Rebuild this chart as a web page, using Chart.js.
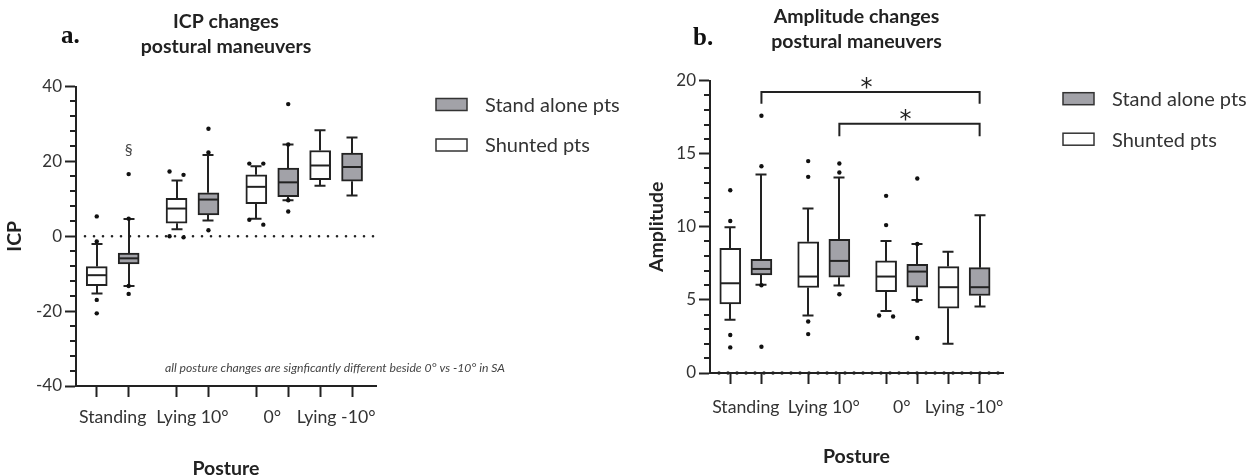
<!DOCTYPE html>
<html lang="en">
<head>
<meta charset="utf-8">
<title>ICP and amplitude changes with posture</title>
<script src="https://cdn.jsdelivr.net/npm/chart.js@4.4.1/dist/chart.umd.min.js"></script>
<style>
  html, body { margin: 0; padding: 0; background: #fff; }
  body { position: relative; width: 1256px; height: 476px; overflow: hidden; }
  canvas { position: absolute; top: 0; }
  #icpChart { left: 0; }
  #ampChart { left: 640px; }
</style>
</head>
<body>
<canvas id="icpChart" width="640" height="476"></canvas>
<canvas id="ampChart" width="616" height="476"></canvas>
<script>
const FONT = 'Lato, "Open Sans", sans-serif';
const INK = '#222222';
const TEXT = '#333333';
const SA_FILL = '#a2a2a8';
const SHUNT_FILL = '#ffffff';

const postures = ['Standing', 'Lying 10°', '0°', 'Lying -10°'];
// x position of each posture pair (GraphPad leaves uneven gaps between pairs)
const groupCenters = [1.5, 4, 6.5, 8.5];

// ---- a. ICP, whiskers at 10/90 percentile ----
const icpSaMin = [-13.3, 4.2, 9.6, 10.9];
const icpSaQ1  = [-7.4, 5.7, 10.6, 14.7];
const icpSaMed = [-5.9, 9.8, 14.4, 18.5];
const icpSaQ3  = [-4.5, 11.6, 18.2, 22.2];
const icpSaMax = [4.6, 21.7, 24.5, 26.4];
const icpSaOut = [[16.6, 4.7, -13.3, -15.4], [28.7, 22.4, 1.6], [35.3, 24.5, 9.6, 6.6], []];

const icpShMin = [-15.3, 1.9, 4.7, 13.5];
const icpShQ1  = [-13.2, 3.5, 8.7, 15.1];
const icpShMed = [-10.4, 7.4, 13.2, 18.9];
const icpShQ3  = [-8.1, 10.1, 16.4, 22.9];
const icpShMax = [-2.1, 14.9, 18.7, 28.3];
const icpShOut = [[5.3, -1.4, -17.0, -20.6], [16.4, 17.3, -0.3, 0.0], [19.4, 19.4, 3.1, 4.4], []];

// ---- b. Amplitude ----
const ampSaMin = [6.03, 5.98, 5.0, 4.55];
const ampSaQ1  = [6.71, 6.55, 5.87, 5.3];
const ampSaMed = [7.12, 7.67, 6.94, 5.87];
const ampSaQ3  = [7.78, 9.15, 7.44, 7.21];
const ampSaMax = [13.58, 13.38, 8.83, 10.8];
const ampSaOut = [[17.6, 14.15, 6.0, 1.8], [14.33, 13.72, 5.39], [13.31, 8.83, 4.95, 2.39], []];

const ampShMin = [3.64, 3.93, 4.25, 2.0];
const ampShQ1  = [4.73, 5.85, 5.57, 4.43];
const ampShMed = [6.14, 6.6, 6.6, 5.87];
const ampShQ3  = [8.53, 8.98, 7.67, 7.28];
const ampShMax = [9.97, 11.26, 9.03, 8.3];
const ampShOut = [[12.5, 10.4, 2.6, 1.75], [14.5, 13.42, 3.52, 2.66], [12.12, 10.12, 3.87, 3.93], []];

function boxSeries(label, fill, side, min, q1, med, q3, max, out) {
  return { label, fill, pos: groupCenters.map(c => c + side * 0.5), min, q1, med, q3, max, out };
}

const icpSeries = [
  boxSeries('Stand alone pts', SA_FILL, 1, icpSaMin, icpSaQ1, icpSaMed, icpSaQ3, icpSaMax, icpSaOut),
  boxSeries('Shunted pts', SHUNT_FILL, -1, icpShMin, icpShQ1, icpShMed, icpShQ3, icpShMax, icpShOut)
];
const ampSeries = [
  boxSeries('Stand alone pts', SA_FILL, 1, ampSaMin, ampSaQ1, ampSaMed, ampSaQ3, ampSaMax, ampSaOut),
  boxSeries('Shunted pts', SHUNT_FILL, -1, ampShMin, ampShQ1, ampShMed, ampShQ3, ampShMax, ampShOut)
];

function makeDatasets(series, barWidth) {
  const bars = series.map(s => ({
    type: 'bar',
    label: s.label,
    data: s.pos.map((p, i) => ({ x: p, y: [s.q1[i], s.q3[i]] })),
    backgroundColor: s.fill,
    borderColor: INK,
    borderWidth: 2,
    borderSkipped: false,
    barThickness: barWidth,
    grouped: false,
    order: 1
  }));
  const dots = series.map(s => ({
    type: 'scatter',
    label: s.label + ' (outliers)',
    data: s.out.flatMap((vals, i) => vals.map(v => ({ x: s.pos[i], y: v }))),
    pointRadius: 2.2,
    pointBackgroundColor: '#111',
    pointBorderWidth: 0,
    order: 0
  }));
  return bars.concat(dots);
}

// whiskers, medians, minor ticks, legend and the small annotations
function boxPlotLayer(cfg) {
  return {
    id: 'boxPlotLayer',
    afterDatasetsUpdate(chart) {
      // nudge near-identical outliers apart like GraphPad does
      chart.data.datasets.forEach((ds, di) => {
        if (ds.type !== 'scatter') return;
        const byBox = {};
        chart.getDatasetMeta(di).data.forEach(pt => {
          const k = Math.round(pt.x);
          (byBox[k] = byBox[k] || []).push(pt);
        });
        Object.values(byBox).forEach(list => {
          list.sort((a, b) => a.y - b.y);
          for (let k = 0; k < list.length - 1; k++) {
            if (list[k + 1].y - list[k].y < 6) {
              list[k].x -= 7;
              list[k + 1].x += 7;
              k++;
            }
          }
        });
      });
    },
    beforeDatasetsDraw(chart) {
      const { ctx, chartArea, scales: { x, y } } = chart;
      ctx.save();
      // dotted line at 0
      const y0 = y.getPixelForValue(0);
      ctx.strokeStyle = INK;
      ctx.lineWidth = cfg.zeroDot;
      ctx.lineCap = 'round';
      ctx.setLineDash([0, 9]);
      ctx.beginPath();
      ctx.moveTo(chartArea.left + 9, y0);
      ctx.lineTo(chartArea.right, y0);
      ctx.stroke();
      ctx.setLineDash([]);
      ctx.lineCap = 'butt';
      ctx.lineWidth = 2;
      cfg.series.forEach(s => s.pos.forEach((p, i) => {
        const px = Math.round(x.getPixelForValue(p));
        [[s.q3[i], s.max[i]], [s.q1[i], s.min[i]]].forEach(([from, to]) => {
          const a = y.getPixelForValue(from), b = y.getPixelForValue(to);
          ctx.beginPath();
          ctx.moveTo(px, a); ctx.lineTo(px, b);
          ctx.moveTo(px - 5.5, b); ctx.lineTo(px + 5.5, b);
          ctx.stroke();
        });
      }));
      ctx.restore();
    },
    afterDatasetsDraw(chart) {
      const { ctx, scales: { x, y } } = chart;
      ctx.save();
      ctx.strokeStyle = INK;
      ctx.lineWidth = 2;
      // medians
      const half = cfg.barWidth / 2 - 1;
      cfg.series.forEach(s => s.pos.forEach((p, i) => {
        const px = x.getPixelForValue(p), py = y.getPixelForValue(s.med[i]);
        ctx.beginPath();
        ctx.moveTo(px - half, py); ctx.lineTo(px + half, py);
        ctx.stroke();
      }));
      // minor ticks on the y axis
      const axisX = y.right;
      for (let v = y.min; v <= y.max + 1e-6; v += cfg.minorStep) {
        if (Math.abs(Math.round(v / cfg.majorStep) * cfg.majorStep - v) < 1e-6) continue;
        const py = Math.round(y.getPixelForValue(v));
        ctx.beginPath();
        ctx.moveTo(axisX - 6, py); ctx.lineTo(axisX, py);
        ctx.stroke();
      }
      // significance brackets
      ctx.fillStyle = INK;
      ctx.textAlign = 'center';
      (cfg.sig || []).forEach(b => {
        const s = cfg.series[b.series];
        const x1 = x.getPixelForValue(s.pos[b.from]), x2 = x.getPixelForValue(s.pos[b.to]);
        const top = y.getPixelForValue(b.top), tip = y.getPixelForValue(b.tip);
        ctx.beginPath();
        ctx.moveTo(x1, tip); ctx.lineTo(x1, top); ctx.lineTo(x2, top); ctx.lineTo(x2, tip);
        ctx.stroke();
        ctx.font = '24px "DejaVu Sans", sans-serif';
        ctx.textBaseline = 'alphabetic';
        ctx.fillText('*', (x1 + x2) / 2 - 4, top + 3);
      });
      // text markers tied to a box
      (cfg.marks || []).forEach(m => {
        const s = cfg.series[m.series];
        ctx.font = '16px ' + FONT;
        ctx.fillStyle = '#444';
        ctx.textBaseline = 'middle';
        ctx.fillText(m.text, x.getPixelForValue(s.pos[m.box]), y.getPixelForValue(m.y));
      });
      ctx.restore();
    },
    afterDraw(chart) {
      const { ctx, chartArea } = chart;
      ctx.save();
      // legend to the right of the plot
      cfg.series.forEach((s, i) => {
        const bx = chartArea.right + 60, by = chartArea.top + 18 + i * 40.5;
        ctx.fillStyle = s.fill;
        ctx.fillRect(bx, by - 6, 31, 12);
        ctx.strokeStyle = '#333';
        ctx.lineWidth = 1.5;
        ctx.strokeRect(bx, by - 6, 31, 12);
        ctx.fillStyle = TEXT;
        ctx.font = '20px ' + FONT;
        ctx.textAlign = 'left';
        ctx.textBaseline = 'middle';
        ctx.fillText(s.label, bx + 49, by + 1);
      });
      // panel letter
      ctx.fillStyle = '#111';
      ctx.font = 'bold 25px "Liberation Serif", serif';
      ctx.textAlign = 'left';
      ctx.textBaseline = 'alphabetic';
      ctx.fillText(cfg.letter, chartArea.left + cfg.letterDx, cfg.letterY);
      if (cfg.note) {
        ctx.fillStyle = '#444';
        ctx.font = 'italic 12.2px ' + FONT;
        ctx.textBaseline = 'middle';
        ctx.fillText(cfg.note, chartArea.left + 89, chartArea.bottom - 18);
      }
      ctx.restore();
    }
  };
}

function boxChart(canvasId, cfg) {
  const tickPositions = [];
  cfg.series.forEach(s => tickPositions.push(...s.pos));
  tickPositions.push(...groupCenters);
  tickPositions.sort((a, b) => a - b);

  return new Chart(document.getElementById(canvasId), {
    type: 'bar',
    data: { datasets: makeDatasets(cfg.series, cfg.barWidth) },
    options: {
      responsive: false,
      animation: false,
      events: [],
      layout: { padding: { top: 0, left: 0, bottom: 0, right: cfg.rightPad } },
      plugins: {
        legend: { display: false },
        tooltip: { enabled: false },
        title: {
          display: true,
          text: cfg.title,
          fullSize: false,
          color: INK,
          font: { family: FONT, size: 19.5, weight: 'bold', lineHeight: 25 / 19.5 },
          padding: cfg.titlePad
        }
      },
      scales: {
        x: {
          type: 'linear',
          min: 0.35,
          max: 9.75,
          offset: false,
          afterBuildTicks: s => { s.ticks = tickPositions.map(v => ({ value: v })); },
          afterFit: s => { s.height = cfg.xHeight; },
          ticks: {
            autoSkip: false,
            maxRotation: 0,
            minRotation: 0,
            color: TEXT,
            font: { family: FONT, size: 17.7 },
            padding: cfg.xLabelPad,
            callback: v => {
              const k = groupCenters.indexOf(v);
              return k >= 0 ? postures[k] : '';
            }
          },
          grid: {
            offset: false,
            drawOnChartArea: false,
            tickLength: 11,
            tickWidth: 2,
            tickColor: c => (c.tick && groupCenters.includes(c.tick.value)) ? 'rgba(0,0,0,0)' : INK
          },
          border: { color: INK, width: 2 },
          title: {
            display: true,
            text: 'Posture',
            color: INK,
            font: { family: FONT, size: 19.5, weight: 'bold' },
            padding: { top: 0, bottom: cfg.xTitlePad }
          }
        },
        y: {
          min: cfg.yMin,
          max: cfg.yMax,
          afterFit: s => { s.width = cfg.yWidth; },
          ticks: {
            stepSize: cfg.majorStep,
            color: TEXT,
            font: { family: FONT, size: 17 },
            padding: 3
          },
          grid: {
            drawOnChartArea: false,
            tickLength: 11,
            tickWidth: 2,
            tickColor: INK
          },
          border: { color: INK, width: 2 },
          title: {
            display: true,
            text: cfg.yTitle,
            color: INK,
            font: { family: FONT, size: 19.5, weight: 'bold' },
            padding: { top: cfg.yTitlePad, bottom: 0 }
          }
        }
      }
    },
    plugins: [boxPlotLayer(cfg)]
  });
}

boxChart('icpChart', {
  series: icpSeries,
  title: ['ICP changes', 'postural maneuvers'],
  titlePad: { top: 9.5, bottom: 27 },
  letter: 'a.', letterDx: -15, letterY: 43,
  yTitle: 'ICP', yMin: -40, yMax: 40, majorStep: 20, minorStep: 4,
  yWidth: 76, yTitlePad: 3.4,
  xHeight: 90, xLabelPad: 10, xTitlePad: -4.4,
  rightPad: 264, barWidth: 21, zeroDot: 2.6,
  note: 'all posture changes are signficantly different beside 0° vs -10° in SA',
  marks: [{ series: 0, box: 0, y: 23.1, text: '§' }]
});

boxChart('ampChart', {
  series: ampSeries,
  title: ['Amplitude changes', 'postural maneuvers'],
  titlePad: { top: 4.2, bottom: 26.5 },
  letter: 'b.', letterDx: -17, letterY: 45,
  yTitle: 'Amplitude', yMin: 0, yMax: 20, majorStep: 5, minorStep: 1,
  yWidth: 70, yTitlePad: 5.4,
  xHeight: 103, xLabelPad: 13, xTitlePad: 7.4,
  rightPad: 253, barWidth: 21, zeroDot: 3.5,
  sig: [
    { series: 0, from: 0, to: 3, top: 19.22, tip: 18.43 },
    { series: 0, from: 1, to: 3, top: 17.06, tip: 16.2 }
  ]
});
</script>
</body>
</html>
